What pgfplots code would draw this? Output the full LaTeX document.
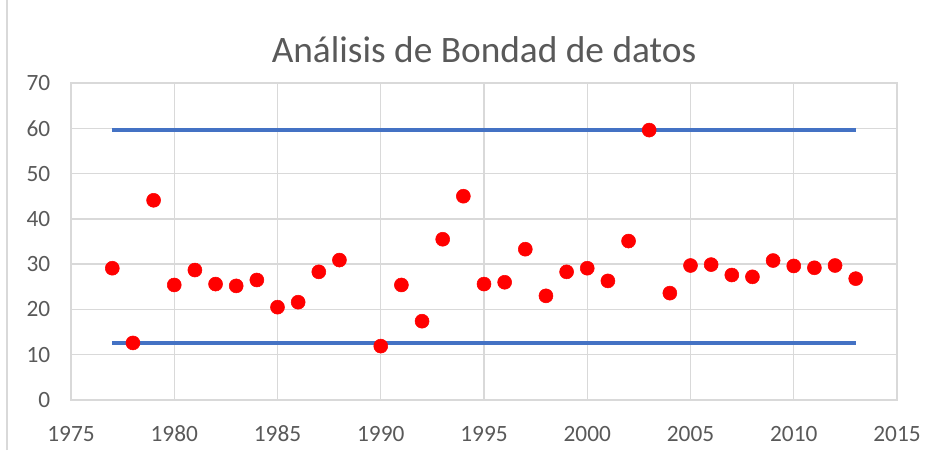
\documentclass[border=0pt]{standalone}
\usepackage{pgfplots}
\pgfplotsset{compat=1.18}
\usepackage{fontspec}
\setmainfont{Carlito}
\definecolor{txt}{HTML}{595959}
\definecolor{grd}{HTML}{D9D9D9}
\definecolor{lineblue}{HTML}{4472C4}
\begin{document}
\begin{tikzpicture}[x=0.75pt,y=0.75pt]
\useasboundingbox (0,0) rectangle (939,450);
\draw[grd, line width=1pt] (7,0) -- (7,450);
\begin{axis}[
  at={(71pt*0.75,50pt*0.75)}, anchor=south west,
  scale only axis, width=619.5pt, height=237.75pt,
  xmin=1975, xmax=2015, ymin=0, ymax=70,
  xtick={1975,1980,...,2015}, ytick={0,10,...,70},
  grid=major, major grid style={grd, line width=1pt},
  axis line style={grd, line width=1pt},
  tick style={draw=none},
  /pgf/number format/assume math mode=true,
  x tick label style={/pgf/number format/1000 sep={}, font=\fontsize{17.5}{17.5}\selectfont, text=txt, yshift=-16pt},
  y tick label style={font=\fontsize{17.5}{17.5}\selectfont, text=txt, xshift=-12pt},
  title={Análisis de Bondad de datos},
  title style={font=\fontsize{28}{28}\selectfont, text=txt, yshift=6pt},
  clip=false,
]
\addplot[lineblue, line width=3pt] coordinates {(1977,59.6) (2013,59.6)};
\addplot[lineblue, line width=3pt] coordinates {(1977,12.5) (2013,12.5)};
\addplot[only marks, mark=*, mark size=5.25pt, mark options={fill=red, draw=red}] coordinates {
(1977,29.1) (1978,12.6) (1979,44.1) (1980,25.4) (1981,28.7) (1982,25.6)
(1983,25.2) (1984,26.5) (1985,20.5) (1986,21.6) (1987,28.3) (1988,30.9)
(1990,11.9) (1991,25.4) (1992,17.4) (1993,35.5) (1994,45.0) (1995,25.6)
(1996,26.0) (1997,33.3) (1998,23.0) (1999,28.3) (2000,29.1) (2001,26.3)
(2002,35.1) (2003,59.6) (2004,23.6) (2005,29.7) (2006,29.9) (2007,27.6)
(2008,27.2) (2009,30.8) (2010,29.6) (2011,29.2) (2012,29.7) (2013,26.8)
};
\end{axis}
\end{tikzpicture}
\end{document}
